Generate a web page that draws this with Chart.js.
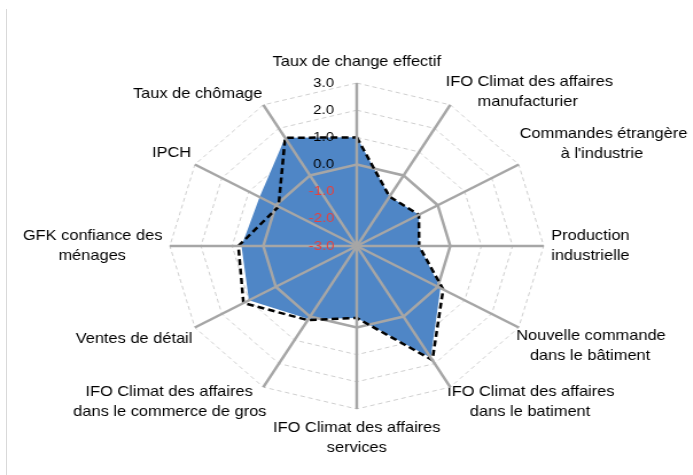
<!DOCTYPE html>
<html><head><meta charset="utf-8">
<script src="https://cdn.jsdelivr.net/npm/chart.js@4.4.1/dist/chart.umd.min.js"></script>
<style>
html,body{margin:0;padding:0;background:#fff;overflow:hidden;width:693px;height:475px;position:relative}
#frame{position:absolute;left:6px;top:9px;width:0;height:466px;border-left:1px solid #d9d9d9;z-index:2}
#wrap{position:absolute;left:0;top:0;width:610px;height:475px;transform-origin:0 0;transform:scaleX(1.1472)}
</style></head><body>
<div id="frame"></div>
<div id="wrap"><canvas id="c" width="610" height="475"></canvas></div>
<script>
const categories = [
  "Taux de change effectif",
  ["IFO Climat des affaires", "manufacturier"],
  ["Commandes étrangère", "à l'industrie"],
  ["Production", "industrielle"],
  ["Nouvelle commande", "dans le bâtiment"],
  ["IFO Climat des affaires", "dans le batiment"],
  ["IFO Climat des affaires", "services"],
  ["IFO Climat des affaires", "dans le commerce de gros"],
  "Ventes de détail",
  ["GFK confiance des", "ménages"],
  "IPCH",
  "Taux de chômage"
];
const currentValues  = [1.0, -0.9, -0.7, -1.0, 0.1, 1.75, -0.35, 0.1, 1.0, 0.7, 0.6, 1.6];
const previousValues = [1.0, -0.9, -0.7, -1.0, 0.2, 1.85, -0.35, 0.15, 1.2, 0.8, -0.1, 1.6];
const zeroValues     = [0, 0, 0, 0, 0, 0, 0, 0, 0, 0, 0, 0];
const tickMin = -3, tickMax = 3, tickStep = 1;

const family = "'Liberation Sans', Arial, sans-serif";
const labelSize = 14.3;
const tickSize = 13;
const labelPads = [4, -14.5, -5.5, 0, -9, -12, 2.5, -12, -4, 0, -2.7, -5];
const mctx = document.createElement('canvas').getContext('2d');

function centerLines(lines, align) {
  if (!Array.isArray(lines) || align === 'center') return lines;
  mctx.font = labelSize + 'px ' + family;
  const sp = mctx.measureText(' ').width;
  const ws = lines.map(l => mctx.measureText(l).width);
  const mx = Math.max(...ws);
  return lines.map((l, i) => {
    const n = Math.round((mx - ws[i]) / 2 / sp);
    if (!n) return l;
    const pad = ' '.repeat(n);
    return align === 'left' ? pad + l : l + pad;
  });
}
const tickShift = 20;
function tickLabel(v) {
  const s = v.toFixed(1);
  mctx.font = tickSize + 'px ' + family;
  const w = mctx.measureText(s).width, sp = mctx.measureText(' ').width;
  return s + ' '.repeat(Math.round((w + 2 * tickShift) / sp));
}

function scaleOpts(visible) {
  return {
    type: 'radialLinear',
    min: tickMin, max: tickMax,
    startAngle: 0,
    ticks: {
      stepSize: tickStep,
      z: visible ? 2 : 0,
      showLabelBackdrop: false,
      backdropPadding: 0,
      font: { family: family, size: tickSize },
      color: visible ? (ctx => ctx.tick && ctx.tick.value < 0 ? '#E8413D' : '#000000') : 'rgba(0,0,0,0)',
      callback: tickLabel
    },
    grid: {
      display: visible,
      color: '#cfcfcf',
      lineWidth: 1,
      circular: false,
      z: visible ? -1 : 1
    },
    border: { dash: [4, 3] },
    angleLines: {
      display: !visible,
      color: '#a6a6a6',
      lineWidth: 2.5
    },
    pointLabels: {
      display: true,
      color: visible ? '#000000' : 'rgba(0,0,0,0)',
      font: { family: family, size: labelSize, lineHeight: 1.4 },
      padding: ctx => labelPads[ctx.index],
      callback: (label, i) => centerLines(label, i === 0 || i === 6 ? 'center' : (i < 6 ? 'left' : 'right'))
    }
  };
}

new Chart(document.getElementById('c'), {
  type: 'radar',
  data: {
    labels: categories,
    datasets: [
      { label: 'Précédent', data: previousValues, borderColor: '#000000', borderWidth: 2.5, borderDash: [6, 3.5], fill: false, pointRadius: 0, order: 0 },
      { label: 'Zéro', data: zeroValues, borderColor: '#a6a6a6', borderWidth: 2.5, fill: false, pointRadius: 0, order: 1 },
      { label: 'Actuel', data: currentValues, backgroundColor: '#4F86C6', borderWidth: 0, borderColor: 'rgba(0,0,0,0)', fill: 'start', pointRadius: 0, order: 2 }
    ]
  },
  options: {
    responsive: false,
    animation: false,
    devicePixelRatio: 1,
    layout: { padding: { left: 10.5, right: 0.5, top: 44, bottom: 7 } },
    plugins: { legend: { display: false }, tooltip: { enabled: false } },
    elements: { line: { tension: 0 } },
    scales: { r: scaleOpts(true), r2: scaleOpts(false) }
  }
});
</script>
</body></html>
